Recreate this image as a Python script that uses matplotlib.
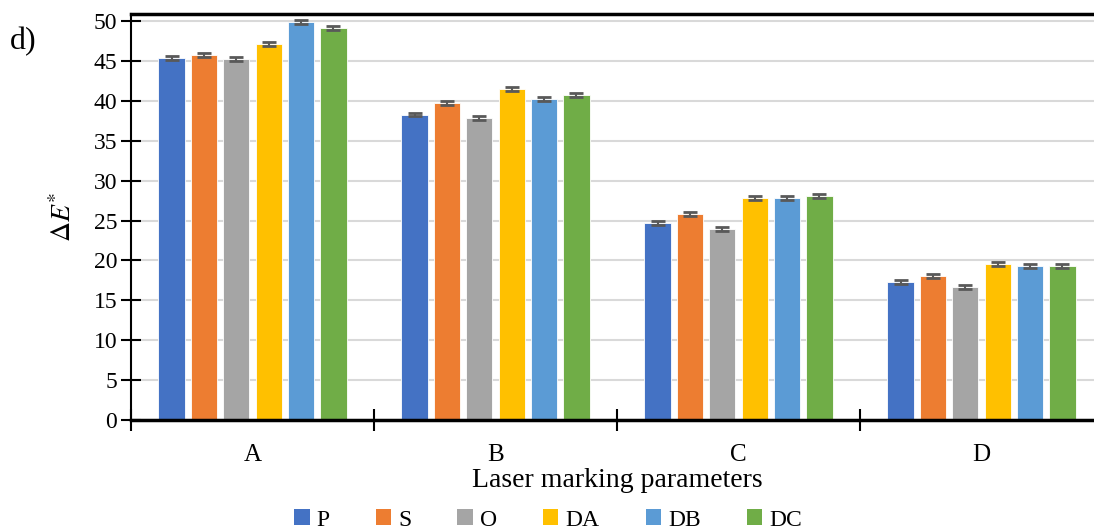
import numpy as np
import matplotlib
matplotlib.use("Agg")
from matplotlib import pyplot as plt
from matplotlib.patches import Patch

plt.rcParams['font.family'] = ['Liberation Serif', 'DejaVu Serif']
plt.rcParams['mathtext.fontset'] = 'stix'

groups = ['A', 'B', 'C', 'D']
series = ['P', 'S', 'O', 'DA', 'DB', 'DC']
colors = ['#4472C4', '#ED7D31', '#A5A5A5', '#FFC000', '#5B9BD5', '#70AD47']

P = [45.4, 38.3, 24.7, 17.3]
S = [45.7, 39.8, 25.8, 18.0]
O = [45.3, 37.8, 23.9, 16.7]
DA = [47.1, 41.5, 27.8, 19.6]
DB = [49.9, 40.3, 27.8, 19.3]
DC = [49.1, 40.7, 28.1, 19.3]
values = [P, S, O, DA, DB, DC]
err = 0.25

fig = plt.figure(figsize=(10.94, 5.32), dpi=100)
ax = fig.add_axes([131 / 1094, 1 - 420 / 532, 972 / 1094, 406 / 532])

x = np.arange(len(groups))
step = 0.1333
width = 0.108
for i, (name, vals) in enumerate(zip(series, values)):
    ax.bar(x + (i - 2.5) * step, vals, width, color=colors[i], edgecolor='white',
           linewidth=0.6, label=name, zorder=2,
           yerr=err, error_kw=dict(ecolor='#595959', elinewidth=1.5, capsize=5,
                                   capthick=2, zorder=2.2))

ax.set_xlim(-0.5, 3.5)
ax.set_ylim(0, 50.9)
ax.set_yticks(np.arange(0, 51, 5))
ax.yaxis.grid(True, color='#d9d9d9', linewidth=1.5, zorder=0)
ax.set_axisbelow(True)

ax.set_xticks(np.arange(-0.5, 3.6, 1.0))
ax.set_xticklabels([])
ax.set_xticks(x, minor=True)
ax.set_xticklabels(groups, minor=True, fontsize=18)
ax.tick_params(axis='x', which='major', direction='inout', length=16, width=1.5)
ax.tick_params(axis='x', which='minor', length=0, pad=17)
ax.tick_params(axis='y', direction='inout', length=14, width=1.5, labelsize=17, pad=3)

ax.spines['right'].set_visible(False)
ax.spines['top'].set_linewidth(2.5)
ax.spines['bottom'].set_linewidth(2.5)
ax.spines['left'].set_linewidth(1.5)

ax.set_xlabel('Laser marking parameters', fontsize=20, labelpad=2)
ax.set_ylabel(r'$\Delta\mathit{E}^{*}$', fontsize=20, labelpad=12)

fig.text(10 / 1094, 1 - 42 / 532, 'd)', fontsize=23, va='center', ha='left')

handles = [Patch(facecolor=c, label=s) for c, s in zip(colors, series)]
fig.legend(handles=handles, loc='center', bbox_to_anchor=(548 / 1094, 1 - 520 / 532),
           ncol=6, frameon=False, fontsize=17, handlelength=0.65, handleheight=0.65,
           handletextpad=0.3, columnspacing=1.95, borderaxespad=0, borderpad=0)

fig.savefig('out.png', dpi=100)
